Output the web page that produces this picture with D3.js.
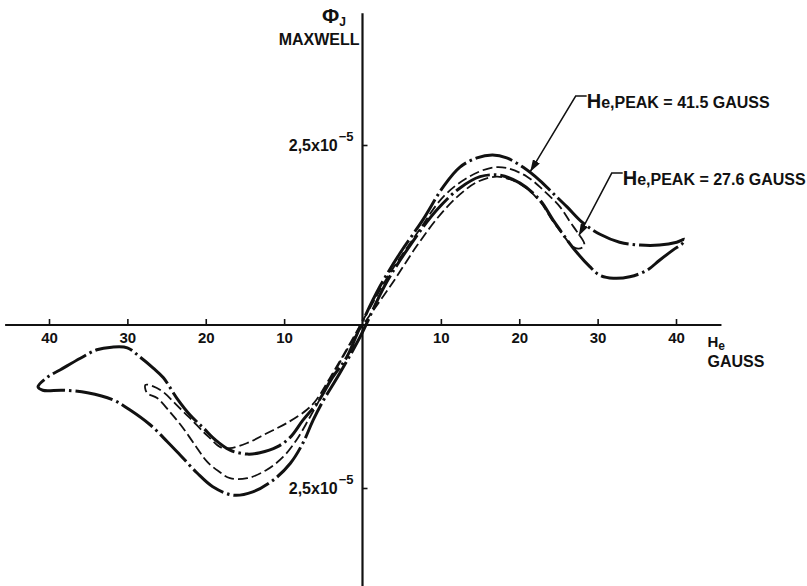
<!DOCTYPE html>
<html>
<head>
<meta charset="utf-8">
<script src="https://cdn.jsdelivr.net/npm/d3@7"></script>
<style>
    body { margin: 0; background: #fff; }
    text { font-family: "Liberation Sans", Arial, sans-serif; font-weight: bold; fill: #111; }
</style>
</head>
<body>
<div id="chart"></div>
<script>
var width = 807, height = 586;

// He in gauss, flux in 1e-5 maxwell
// He,peak = 41.5 loop: branch coming down from +peak, then the branch going back up
var loop41Down = [[41.1, 1.19], [40.1, 1.15], [37.9, 1.11], [35.4, 1.11], [32.8, 1.15], [30.3, 1.26],
    [28.1, 1.42], [26.1, 1.64], [24.3, 1.83], [22.6, 2.01], [20.5, 2.19], [18.4, 2.32], [16.6, 2.36],
    [14.6, 2.32], [12.4, 2.19], [10.3, 1.92], [7.7, 1.46], [4.8, 1.0], [2.2, 0.53], [-0.2, 0.0],
    [-2.0, -0.49], [-3.8, -0.80], [-5.8, -1.20], [-7.6, -1.46], [-9.2, -1.72], [-10.9, -1.87],
    [-13.1, -1.96], [-14.7, -1.98], [-16.9, -1.92], [-18.8, -1.76], [-20.3, -1.58], [-22.0, -1.38],
    [-23.7, -1.12], [-25.4, -0.81], [-26.7, -0.66], [-28.4, -0.49], [-30.0, -0.35], [-32.0, -0.34],
    [-33.9, -0.38], [-36.0, -0.51], [-38.6, -0.69], [-40.2, -0.80], [-41.4, -0.95]];
var loop41Up = [[-40.8, -1.00], [-38.2, -1.00], [-35.1, -1.04], [-31.8, -1.15], [-29.7, -1.30],
    [-27.1, -1.53], [-24.9, -1.79], [-23.3, -1.99], [-21.1, -2.27], [-19.1, -2.48], [-16.5, -2.61],
    [-14.0, -2.56], [-11.4, -2.38], [-9.2, -2.12], [-7.6, -1.81], [-6.3, -1.46], [-5.2, -1.20],
    [-2.9, -0.74], [-0.3, -0.18], [2.9, 0.56], [6.1, 1.11], [9.5, 1.60], [12.4, 1.90], [15.0, 2.06],
    [17.5, 2.08], [20.1, 1.97], [22.6, 1.74], [24.3, 1.46], [25.2, 1.32], [26.8, 1.08], [29.0, 0.81],
    [30.3, 0.69], [32.0, 0.65], [34.1, 0.67], [36.3, 0.76], [37.9, 0.90], [39.6, 1.04], [40.9, 1.14]];

// He,peak = 27.6 loop
var loop27Down = [[28.3, 1.13], [27.4, 1.29], [26.5, 1.43], [25.2, 1.64], [23.0, 1.88], [21.0, 2.06],
    [18.4, 2.18], [16.3, 2.18], [13.3, 2.04], [10.3, 1.78], [7.0, 1.28], [3.5, 0.72], [0.6, 0.17],
    [-2.2, -0.41], [-4.1, -0.80], [-5.9, -1.15], [-7.1, -1.30], [-9.6, -1.50], [-12.2, -1.66],
    [-14.7, -1.81], [-16.9, -1.89], [-18.2, -1.87], [-19.5, -1.73], [-20.3, -1.64], [-22.0, -1.43],
    [-23.7, -1.23], [-25.4, -1.03], [-26.7, -0.94], [-27.7, -0.92]];
var loop27Up = [[-27.5, -1.04], [-26.2, -1.12], [-24.6, -1.33], [-22.9, -1.58], [-21.1, -1.89],
    [-19.8, -2.10], [-18.4, -2.24], [-16.9, -2.35], [-14.7, -2.35], [-12.2, -2.22], [-10.1, -2.02],
    [-8.4, -1.76], [-6.7, -1.41], [-4.8, -1.00], [-2.5, -0.49], [-0.6, -0.11], [0.7, 0.10], [3.8, 0.58],
    [7.0, 1.11], [9.9, 1.53], [12.4, 1.81], [14.7, 1.99], [17.2, 2.06], [20.1, 1.96], [22.6, 1.72],
    [24.3, 1.44], [25.6, 1.25], [26.7, 1.10], [27.5, 1.06], [28.1, 1.08]];

var xTicks = [-40, -30, -20, -10, 10, 20, 30, 40];
var yTicks = [-2.5, 2.5];
var xAxisExtent = [-45.6, 45.8];
var yAxisExtent = [-4.1, 4.33];

// leader notes: arrow tip and elbow, in data units
var notes = [
    {value: "41.5", tip: [21.4, 2.13], elbow: [27.2, 3.18]},
    {value: "27.6", tip: [27.6, 1.24], elbow: [31.8, 2.11]}
];

var svg = d3.select("#chart").append("svg")
    .attr("width", width)
    .attr("height", height);

var x = d3.scaleLinear().domain([-40, 40]).range([49, 676]);
// the drawing is not quite even above and below the axis
var y = d3.scaleLinear().domain([-2.5, 0, 2.5]).range([488, 325, 145]);

var ink = "#111";

// axis lines
svg.append("line")
    .attr("x1", x(xAxisExtent[0])).attr("x2", x(xAxisExtent[1]))
    .attr("y1", y(0)).attr("y2", y(0))
    .attr("stroke", ink).attr("stroke-width", 2);
svg.append("line")
    .attr("x1", x(0)).attr("x2", x(0))
    .attr("y1", y(yAxisExtent[1])).attr("y2", y(yAxisExtent[0]))
    .attr("stroke", ink).attr("stroke-width", 2.2);

var gx = svg.append("g")
    .attr("transform", "translate(0," + y(0) + ")")
    .call(d3.axisBottom(x)
        .tickValues(xTicks)
        .tickSize(-6)
        .tickPadding(7)
        .tickFormat(function (d) { return Math.abs(d); }));
gx.select(".domain").remove();
gx.attr("font-family", null).attr("font-size", 15);
gx.selectAll(".tick line").attr("stroke", ink).attr("stroke-width", 1.6);

var gy = svg.append("g")
    .attr("transform", "translate(" + x(0) + ",0)")
    .call(d3.axisLeft(y)
        .tickValues(yTicks)
        .tickSize(-5)
        .tickPadding(9)
        .tickFormat(""));
gy.select(".domain").remove();
gy.attr("font-family", null).attr("font-size", 16);
gy.selectAll(".tick line").attr("stroke", ink).attr("stroke-width", 1.6);
gy.selectAll(".tick text").each(function () {
    var t = d3.select(this).text(null);
    t.append("tspan").text("2,5x10");
    t.append("tspan").attr("font-size", 13).attr("dx", 1).attr("dy", -10).text("\u22125");
});

// loops
var line = d3.line()
    .x(function (d) { return x(d[0]); })
    .y(function (d) { return y(d[1]); })
    .curve(d3.curveCatmullRomClosed.alpha(0.5));

svg.append("path")
    .datum(loop27Down.concat(loop27Up))
    .attr("d", line)
    .attr("fill", "none")
    .attr("stroke", ink)
    .attr("stroke-width", 1.8)
    .attr("stroke-dasharray", "10,4");

svg.append("path")
    .datum(loop41Down.concat(loop41Up))
    .attr("d", line)
    .attr("fill", "none")
    .attr("stroke", ink)
    .attr("stroke-width", 3)
    .attr("stroke-dasharray", "38,4,2.5,4");

// axis titles
var phi = svg.append("text").attr("x", 322).attr("y", 23).attr("font-size", 21).text("\u03A6");
phi.append("tspan").attr("font-size", 12).attr("dy", 3).text("J");
svg.append("text")
    .attr("x", x(0) - 3).attr("y", 45)
    .attr("text-anchor", "end")
    .attr("font-size", 16)
    .text("MAXWELL");

var he = svg.append("text")
    .attr("x", x(xAxisExtent[1]) - 14).attr("y", y(0) + 22)
    .attr("font-size", 15).text("H");
he.append("tspan").attr("font-size", 12).attr("dy", 3).text("e");
svg.append("text")
    .attr("x", x(xAxisExtent[1]) - 14).attr("y", y(0) + 42)
    .attr("font-size", 16).text("GAUSS");

// arrowhead
svg.append("defs").append("marker")
    .attr("id", "arrow")
    .attr("markerUnits", "userSpaceOnUse")
    .attr("markerWidth", 12).attr("markerHeight", 8)
    .attr("refX", 12).attr("refY", 4)
    .attr("orient", "auto")
    .append("path")
    .attr("d", "M0,0L12,4L0,8Z")
    .attr("fill", ink);

notes.forEach(function (n) {
    var ex = x(n.elbow[0]), ey = y(n.elbow[1]);
    svg.append("path")
        .attr("d", d3.line()([[ex + 11, ey], [ex, ey], [x(n.tip[0]), y(n.tip[1])]]))
        .attr("fill", "none")
        .attr("stroke", ink)
        .attr("stroke-width", 1.5)
        .attr("marker-end", "url(#arrow)");
    var t = svg.append("text")
        .attr("x", ex + 11).attr("y", ey + 12);
    t.append("tspan").attr("font-size", 20).text("H");
    t.append("tspan").attr("font-size", 16).text("e,PEAK = " + n.value + " GAUSS");
});
</script>
</body>
</html>
